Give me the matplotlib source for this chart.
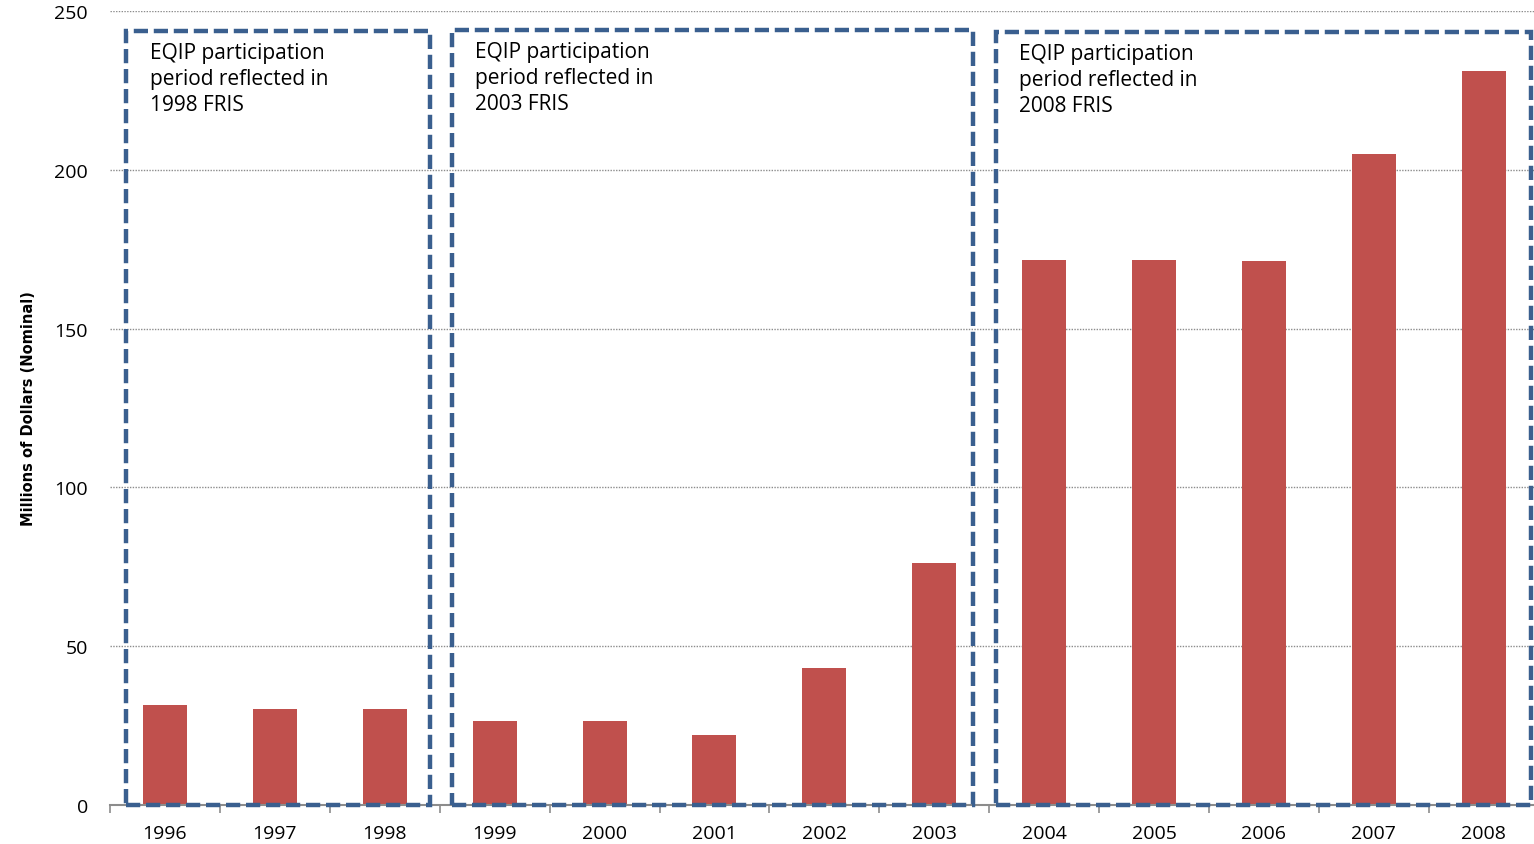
import matplotlib
matplotlib.use('Agg')
import matplotlib.pyplot as plt
from matplotlib.patches import Rectangle
import numpy as np

years = ['1996', '1997', '1998', '1999', '2000', '2001', '2002',
         '2003', '2004', '2005', '2006', '2007', '2008']
values = [31.5, 30.2, 30.2, 26.4, 26.4, 22.0, 43.1,
          76.2, 171.6, 171.6, 171.3, 205.0, 231.1]

box_labels = ['EQIP participation\nperiod reflected in\n1998 FRIS',
              'EQIP participation\nperiod reflected in\n2003 FRIS',
              'EQIP participation\nperiod reflected in\n2008 FRIS']
# box extents in category units (left, right, top)
boxes = [(-0.35, 2.41, 243.7), (2.61, 7.35, 244.0), (7.56, 12.43, 243.4)]

plt.rcParams['font.family'] = ['Open Sans', 'DejaVu Sans']

fig = plt.figure(figsize=(15.34, 8.45), dpi=100)
ax = fig.add_axes([0.0717, 0.0462, 0.9283, 0.9396])

x = np.arange(len(years))
ax.bar(x, values, width=0.4, color='#c0504d', zorder=2)

ax.set_xlim(-0.5, 12.457)
ax.set_ylim(0, 250)
ax.set_yticks(np.arange(0, 251, 50))
ax.yaxis.grid(True, linestyle=(0, (1, 1)), color='#8c8c8c', linewidth=1.0)
ax.set_axisbelow(True)

ax.set_xticks(x)
ax.set_xticklabels(years, fontsize=14)
ax.set_xticks(np.arange(-0.5, 12.5, 1), minor=True)
ax.tick_params(axis='x', which='major', length=0, pad=14)
ax.tick_params(axis='x', which='minor', length=6, color='#8c8c8c', width=1.2)
ax.tick_params(axis='y', length=0, labelsize=14, pad=16)

for s in ['top', 'right', 'left']:
    ax.spines[s].set_visible(False)
ax.spines['bottom'].set_color('#8c8c8c')
ax.spines['bottom'].set_linewidth(1.5)

ax.set_ylabel('Millions of Dollars (Nominal)', fontsize=10.5, fontweight='bold',
              family=['Liberation Sans Narrow', 'DejaVu Sans'])
ax.yaxis.set_label_coords(-0.052, 0.5)

for (l, r, t), lab in zip(boxes, box_labels):
    rect = Rectangle((l, 0), r - l, t, fill=False, edgecolor='#3a5f8f',
                     linewidth=3.2, linestyle=(0, (3.2, 1.3)),
                     zorder=4, clip_on=False)
    ax.add_patch(rect)
    ax.text(l + 0.21, t - 3.5, lab, fontsize=15, va='top', ha='left',
            linespacing=1.3, zorder=5)

fig.savefig('out.png', dpi=100)
